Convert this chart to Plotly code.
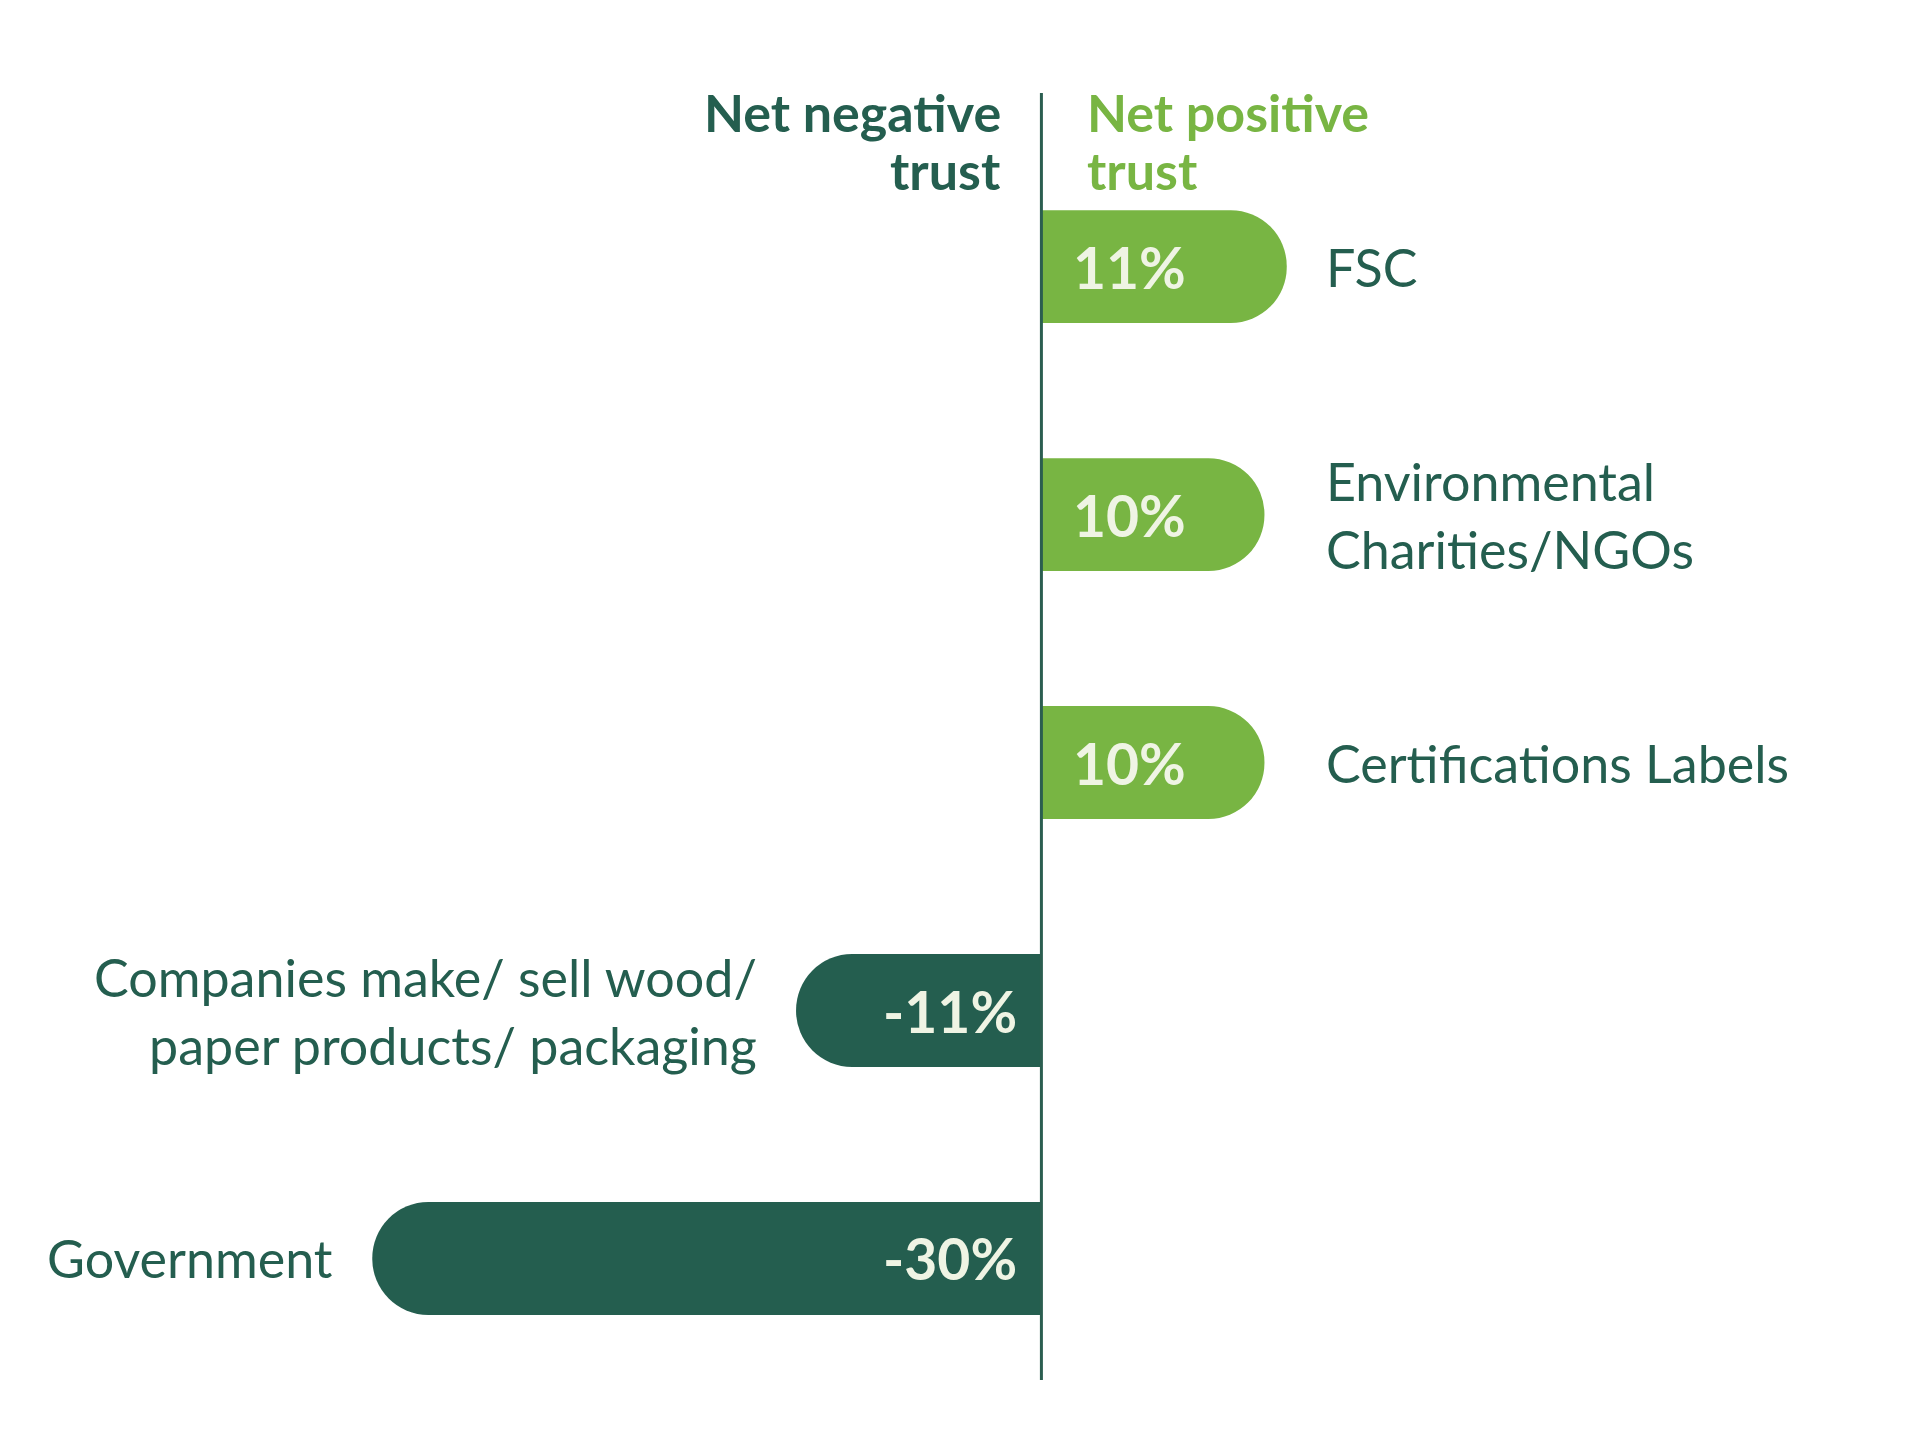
import plotly.graph_objects as go

# net trust by source, top to bottom
categories = ["FSC", "Environmental<br>Charities/NGOs", "Certifications Labels",
              "Companies make/ sell wood/<br>paper products/ packaging", "Government"]
net_trust = [11, 10, 10, -11, -30]
value_labels = ["11%", "10%", "10%", "-11%", "-30%"]

DARK = "#245E4F"
LIGHT = "#78B543"
CREAM = "#EFF4E4"
FONT = "Lato"

colors = [LIGHT if v > 0 else DARK for v in net_trust]

fig = go.Figure()
fig.add_trace(go.Bar(
    y=categories, x=net_trust, orientation="h",
    marker=dict(color=colors, cornerradius="50%", line=dict(width=0)),
    width=0.455, hoverinfo="skip",
))

annotations = []
for cat, v, lab in zip(categories, net_trust, value_labels):
    # value inside the bar, next to the axis
    annotations.append(dict(
        x=0, y=cat, xref="x", yref="y", text="<b>" + lab + "</b>", showarrow=False,
        xanchor="left" if v > 0 else "right", xshift=30 if v > 0 else -22,
        font=dict(family=FONT, size=57, color=CREAM),
    ))
    # category name
    if v > 0:
        annotations.append(dict(
            x=12.65, y=cat, xref="x", yref="y", text=cat, showarrow=False,
            xanchor="left", align="left",
            font=dict(family=FONT, size=52, color=DARK),
        ))
    else:
        annotations.append(dict(
            x=v, y=cat, xref="x", yref="y", text=cat, showarrow=False,
            xanchor="right", align="right", xshift=-37,
            font=dict(family=FONT, size=52, color=DARK),
        ))

# two-line headers either side of the axis
for line, shift in [("Net negative", 14), ("trust", -44)]:
    annotations.append(dict(
        x=0, y=1, xref="x", yref="paper", text="<b>" + line + "</b>",
        showarrow=False, xanchor="right", yanchor="top",
        xshift=-38, yshift=shift, font=dict(family=FONT, size=52, color=DARK),
    ))
for line, shift in [("Net positive", 14), ("trust", -44)]:
    annotations.append(dict(
        x=0, y=1, xref="x", yref="paper", text="<b>" + line + "</b>",
        showarrow=False, xanchor="left", yanchor="top",
        xshift=44, yshift=shift, font=dict(family=FONT, size=52, color=LIGHT),
    ))

fig.update_layout(
    width=1923, height=1437,
    margin=dict(l=52, r=42, t=85, b=65),
    paper_bgcolor="white", plot_bgcolor="white",
    showlegend=False,
    annotations=annotations,
    shapes=[dict(type="line", xref="x", yref="paper", x0=0, x1=0, y0=0, y1=1,
                 line=dict(color="#2B5E50", width=3), layer="above")],
    xaxis=dict(range=[-44, 38], visible=False, showgrid=False, zeroline=False),
    yaxis=dict(range=[4.49, -0.70], visible=False, showgrid=False,
               categoryorder="array", categoryarray=categories),
)

fig.write_html("out.html")
